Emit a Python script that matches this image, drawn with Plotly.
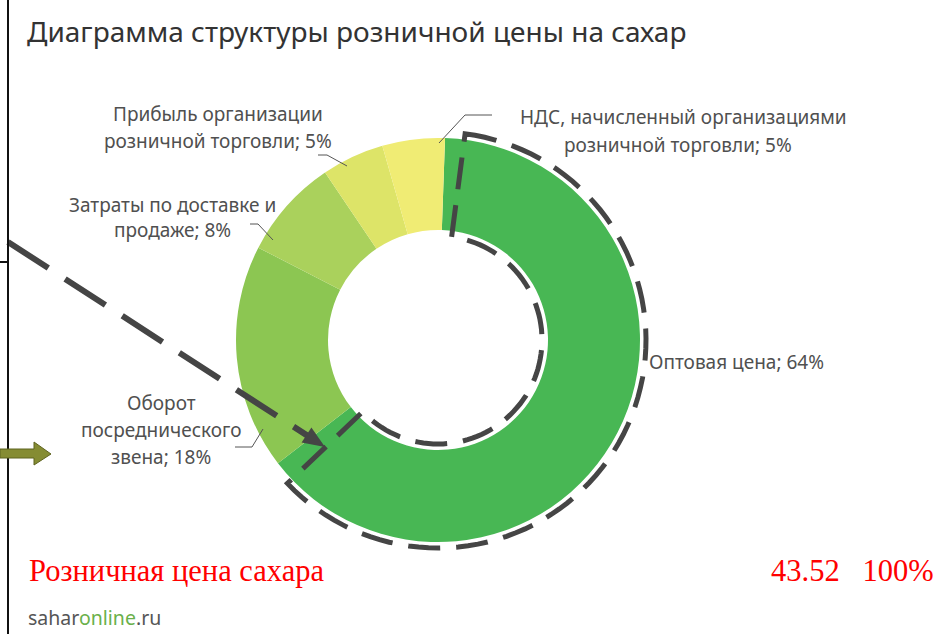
import math
import plotly.graph_objects as go

# Retail sugar price structure
labels = [
    "Оптовая цена",
    "Оборот посреднического звена",
    "Затраты по доставке и продаже",
    "Прибыль организации розничной торговли",
    "НДС, начисленный организациями розничной торговли",
]
shares = [64, 18, 8, 5, 5]
colors = ["#48b754", "#8cc652", "#aad15c", "#dde468", "#f0ec74"]

retail_label = "Розничная цена сахара"
retail_price = 43.52
retail_share = 100

W, H = 936, 634
CX, CY, R_OUT, R_IN = 438, 340, 202, 110
ROTATION = 2

fig = go.Figure()

fig.add_trace(go.Pie(
    labels=labels,
    values=shares,
    sort=False,
    direction="clockwise",
    rotation=ROTATION,
    hole=R_IN / R_OUT,
    marker=dict(colors=colors, line=dict(width=0)),
    textinfo="none",
    hoverinfo="label+percent",
    showlegend=False,
    domain=dict(x=[(CX - R_OUT) / W, (CX + R_OUT) / W],
                y=[1 - (CY + R_OUT) / H, 1 - (CY - R_OUT) / H]),
))

# invisible pixel-space axes for overlays
fig.add_trace(go.Scatter(x=[0, W], y=[0, H], mode="markers",
                         marker=dict(opacity=0), hoverinfo="skip", showlegend=False))


def polar(angle_deg, r):
    a = math.radians(angle_deg)
    return CX + r * math.sin(a), CY - r * math.cos(a)


# dashed outline around the wholesale slice
start = ROTATION + 5.5
end = ROTATION + shares[0] * 3.6 - 6
ro, ri = 208, 104
pts = []
n = 80
for i in range(n + 1):
    pts.append(polar(start + (end - start) * i / n, ro))
for i in range(n + 1):
    pts.append(polar(end - (end - start) * i / n, ri))
path = "M " + " L ".join(f"{x:.1f},{y:.1f}" for x, y in pts) + " Z"
shapes = [dict(type="path", path=path, xref="x", yref="y",
               line=dict(color="#454545", width=5, dash="32px,16px"))]

# dashed pointer from the left edge to the slice
x0, y0, x1, y1 = 8, 242, 325, 447
ang = math.atan2(y1 - y0, x1 - x0)
hl, hw = 22, 9
bx, by = x1 - hl * math.cos(ang), y1 - hl * math.sin(ang)
shapes.append(dict(type="line", x0=x0, y0=y0, x1=bx + 2 * math.cos(ang), y1=by + 2 * math.sin(ang),
                   xref="x", yref="y", line=dict(color="#454545", width=6, dash="48px,20px")))
px, py = -math.sin(ang), math.cos(ang)
shapes.append(dict(type="path", xref="x", yref="y",
                   path=f"M {x1},{y1} L {bx + hw * px:.1f},{by + hw * py:.1f} "
                        f"L {bx - hw * px:.1f},{by - hw * py:.1f} Z",
                   fillcolor="#454545", line=dict(width=0)))

# left frame line and tick
shapes.append(dict(type="line", x0=8, y0=0, x1=8, y1=H, xref="x", yref="y",
                   line=dict(color="#111111", width=2)))
shapes.append(dict(type="line", x0=0, y0=262, x1=8, y1=262, xref="x", yref="y",
                   line=dict(color="#111111", width=2)))

# olive block arrow
shapes.append(dict(type="path", xref="x", yref="y",
                   path="M 0,449 L 34,449 L 34,442 L 51,454 L 34,465 L 34,458 L 0,458 Z",
                   fillcolor="#858c33", line=dict(color="#5f6420", width=1)))

# leader lines
leader = dict(color="#555555", width=1)
for p in [[(318, 155), (327, 155), (347, 166)],
          [(250, 224), (258, 224), (273, 240)],
          [(235, 447), (252, 447), (263, 429)],
          [(492, 115), (465, 115), (439, 143)]]:
    shapes.append(dict(type="path", xref="x", yref="y",
                       path="M " + " L ".join(f"{x},{y}" for x, y in p), line=leader))

ann = []
LBL = dict(family="Noto Sans", size=19, color="#505050")


def text(x, y, s, anchor="center", font=LBL):
    ann.append(dict(x=x, y=y, xref="x", yref="y", text=s, showarrow=False,
                    xanchor=anchor, yanchor="middle", font=font))


text(25, 31, "Диаграмма структуры розничной цены на сахар", "left",
     dict(family="Noto Sans", size=28, color="#333333"))

text(218, 114, "Прибыль организации")
text(218, 141, f"розничной торговли; {shares[3]}%")
text(172, 205, "Затраты по доставке и")
text(172, 230, f"продаже; {shares[2]}%")
text(161, 403, "Оборот")
text(161, 430, "посреднического")
text(161, 457, f"звена; {shares[1]}%")
text(683, 117, "НДС, начисленный организациями")
text(678, 145, f"розничной торговли; {shares[4]}%")
text(647, 362, f"Оптовая цена; {shares[0]}%", "left")

RED = dict(family="Liberation Serif", size=30.5, color="#ff0000")
text(27, 571, retail_label, "left", RED)
text(936, 571, f"{retail_price:.2f}&nbsp;&nbsp;&nbsp;{retail_share}%", "right", RED)

text(26, 617, "sahar<span style='color:#6ab04a'>online</span>.ru", "left",
     dict(family="Noto Sans", size=19.5, color="#555555"))

fig.update_layout(
    width=W, height=H,
    margin=dict(l=0, r=0, t=0, b=0),
    paper_bgcolor="white", plot_bgcolor="rgba(0,0,0,0)",
    xaxis=dict(range=[0, W], visible=False, fixedrange=True),
    yaxis=dict(range=[H, 0], visible=False, fixedrange=True),
    shapes=shapes, annotations=ann,
)

fig.write_html("out.html")
